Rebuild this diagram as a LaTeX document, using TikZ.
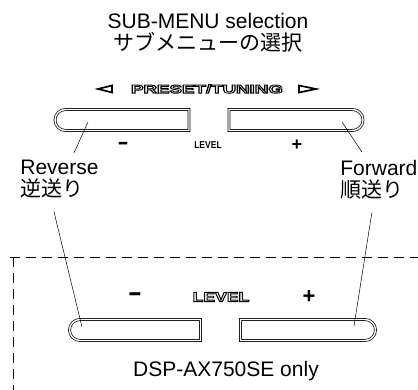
\documentclass[tikz,border=0pt]{standalone}
\usepackage{fontspec}
\setmainfont{Liberation Sans}
\newfontfamily\jpfont{Noto Sans CJK JP}
\usetikzlibrary{shapes.misc, positioning}
% outlined letters, as printed on the panel
\newcommand\hollowtext[1]{\special{pdf:literal direct 1 Tr 0.8 w}#1\special{pdf:literal direct 0 Tr}}
\tikzset{
  every picture/.style={line width=0.7pt},
  big/.style={font=\fontsize{21}{22}\selectfont, inner sep=0pt},
  panel/.style={font=\bfseries\fontsize{#1}{#1}\selectfont, inner sep=0pt},
  btn/.style={draw, double, double distance=1.4pt, rounded rectangle, minimum width=#1, minimum height=21pt, inner sep=0pt},
  btnl/.style={btn=#1, rounded rectangle right arc=none},
  btnr/.style={btn=#1, rounded rectangle left arc=none},
  leader/.style={draw, line width=0.5pt},
  frame/.style={dash pattern=on 10pt off 6pt, line width=0.6pt},
  arrowmark/.style={line width=1.7pt, line join=miter},
}

\begin{document}
\begin{tikzpicture}[x=1pt, y=-1pt]
  \useasboundingbox (0,0) rectangle (418,390);
  \node[big, align=center, anchor=north] (title) at (208,13) {SUB-MENU selection\\{\jpfont サブメニューの選択}};
  % upper panel
  \node[panel=11.7] (preset) at (207,89) {\scalebox{1.6}[1]{\hollowtext{PRESET/TUNING}}};
  \draw[arrowmark] (112,85.5) -- (98,89) -- (112,92.5) -- cycle;
  \draw[arrowmark] (299,85.5) -- (316,89) -- (299,92.5) -- cycle;
  \node[btnl=134pt] (upminus) at (122,120) {};
  \node[btnr=134pt] (upplus) at (296,120) {};
  \node[panel=17] (mminus) at (123,146) {\scalebox{1}[1.5]{--}};
  \node[panel=10] (mlevel) at (208,145) {\scalebox{0.85}[1]{LEVEL}};
  \node[panel=18] (mplus) at (297,145) {+};
  \node[big, align=left, anchor=north west] (rev) at (20,160) {Reverse\\{\jpfont 逆送り}};
  \node[big, align=left, anchor=north west] (fwd) at (340,160) {Forward\\{\jpfont 順送り}};
  % lower panel
  \draw[frame] (10,257) -- (418,257);
  \draw[frame] (13,257) -- (13,390);
  \node[panel=22] (lminus) at (135,298) {\scalebox{1}[1.4]{--}};
  \node[panel=13.5] (llevel) at (221,297) {\scalebox{1.3}[1]{\hollowtext{LEVEL}}};
  \node[panel=22] (lplus) at (309,297) {+};
  \node[btnl=131pt] (lowminus) at (135,330) {};
  \node[btnr=135pt] (lowplus) at (308,330) {};
  \node[big, anchor=base] (only) at (226,376) {DSP-AX750SE only};
  \coordinate (p1) at (88,122);
  \coordinate (p2) at (342,122);
  \coordinate (p3) at (82,327);
  \coordinate (p4) at (354,326);
  \draw[leader] ([shift={(14.5,-7)}]rev.north) -- (p1);
  \draw[leader] ([shift={(-17,-8)}]fwd.north) -- (p2);
  \draw[leader] ([shift={(-5.5,13)}]rev.south) -- (p3);
  \draw[leader] ([shift={(-7,13)}]fwd.south) -- (p4);
\end{tikzpicture}
\end{document}
